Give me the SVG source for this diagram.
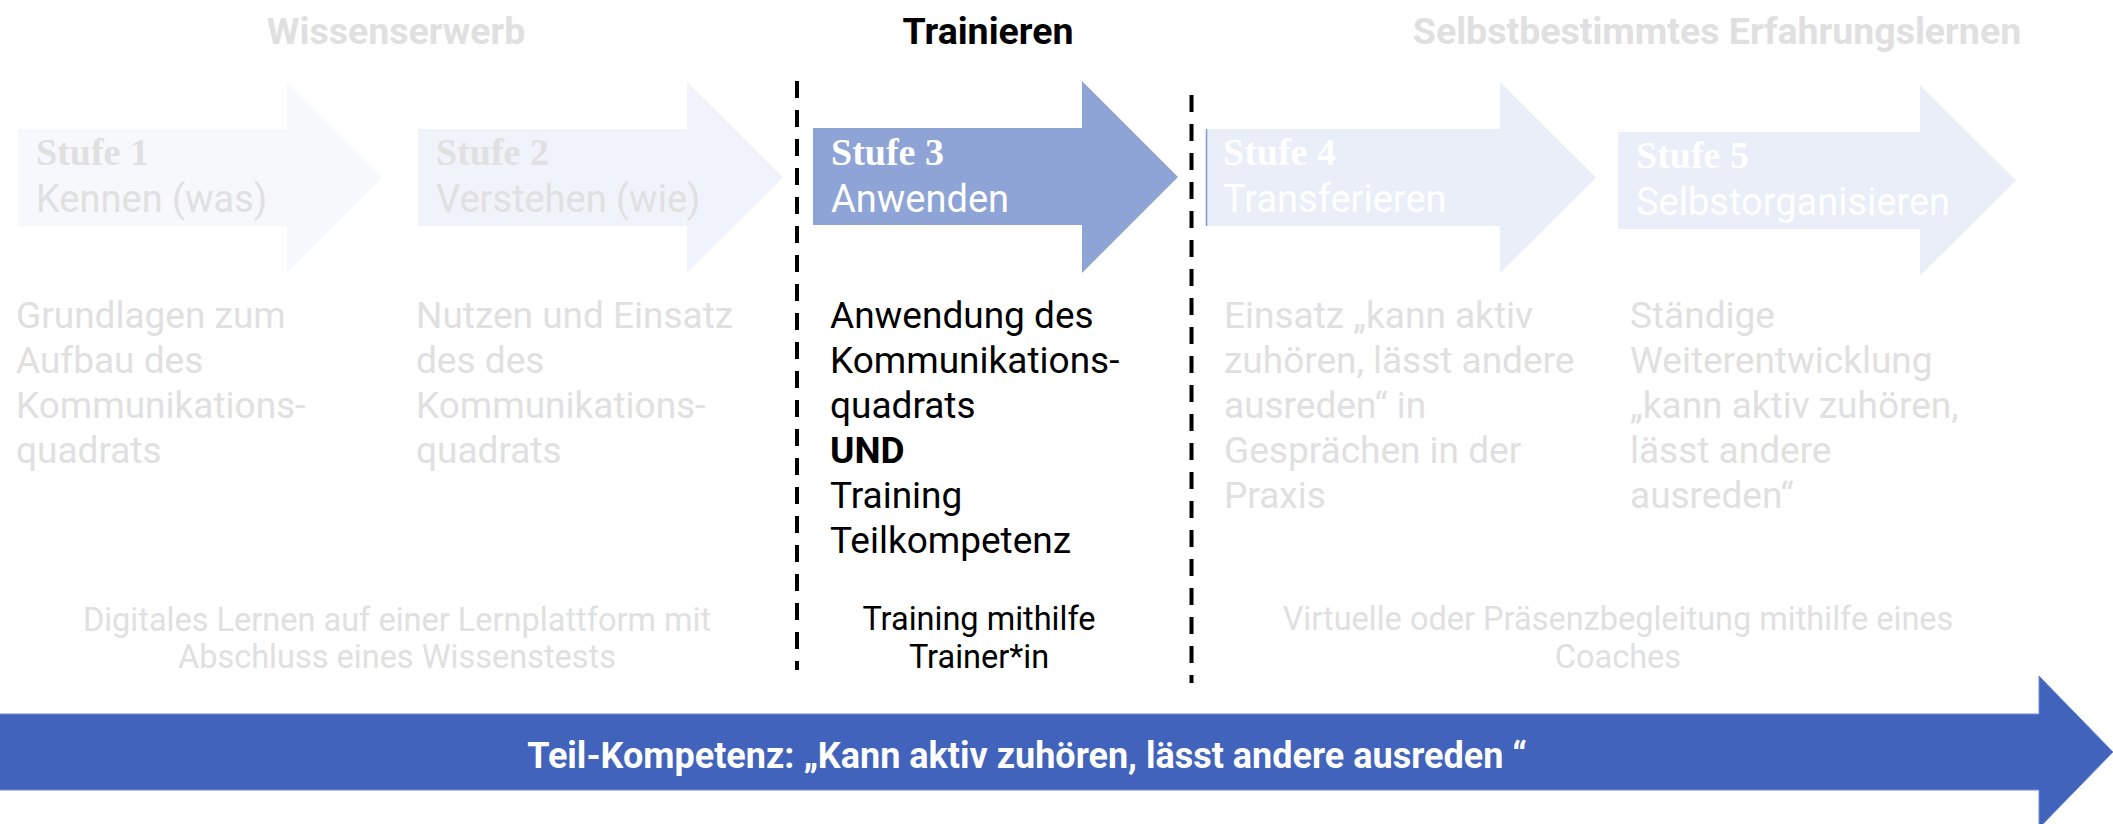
<svg xmlns="http://www.w3.org/2000/svg" width="2113" height="824" viewBox="0 0 2113 824">
<style>
.h{font-family:Roboto,"Liberation Sans",sans-serif;font-weight:700;font-size:37.5px;text-anchor:middle}
.b{font-family:Roboto,"Liberation Sans",sans-serif;font-weight:700;font-size:36px;text-anchor:middle}
.st{font-family:"Liberation Serif",serif;font-weight:700;font-size:38px}
.sub{font-family:Roboto,"Liberation Sans",sans-serif;font-size:38px}
.d{font-family:Roboto,"Liberation Sans",sans-serif;font-size:37px}
.s{font-family:Roboto,"Liberation Sans",sans-serif;font-size:32.5px;text-anchor:middle}
.g{fill:#e0e0e0}
.w{fill:#ffffff}
.k{fill:#000000}
.div{stroke:#000;stroke-width:4;stroke-dasharray:17 12;fill:none}
</style>
<rect width="2113" height="824" fill="#ffffff"/>

<g id="headings">
<text class="h g" x="396" y="44">Wissenserwerb</text>
<text class="h k" x="988" y="44">Trainieren</text>
<text class="h g" x="1717" y="44">Selbstbestimmtes Erfahrungslernen</text>
</g>

<g id="stufe1">
<path d="M18 129 H287 V82 L382 177.5 L287 273 V226 H18 Z" fill="#f7f8fc"/>
<text class="st g" x="36" y="165">Stufe 1</text>
<text class="sub g" x="36" y="212">Kennen (was)</text>
<text class="d g"><tspan x="16" y="328">Grundlagen zum</tspan><tspan x="16" y="373">Aufbau des</tspan><tspan x="16" y="418">Kommunikations-</tspan><tspan x="16" y="463">quadrats</tspan></text>
</g>

<g id="stufe2">
<path d="M418 129 H687 V82 L783 177.5 L687 273 V226 H418 Z" fill="#f1f3fa"/>
<text class="st g" x="436" y="165">Stufe 2</text>
<text class="sub g" x="436" y="212">Verstehen (wie)</text>
<text class="d g"><tspan x="416" y="328">Nutzen und Einsatz</tspan><tspan x="416" y="373">des des</tspan><tspan x="416" y="418">Kommunikations-</tspan><tspan x="416" y="463">quadrats</tspan></text>
</g>

<g id="stufe3">
<path d="M813 128 H1082 V81 L1178 177 L1082 273 V225 H813 Z" fill="#8ea3d6"/>
<text class="st w" x="831" y="165">Stufe 3</text>
<text class="sub w" x="831" y="212">Anwenden</text>
<text class="d k"><tspan x="830" y="328">Anwendung des</tspan><tspan x="830" y="373">Kommunikations-</tspan><tspan x="830" y="418">quadrats</tspan><tspan x="830" y="463" font-weight="700">UND</tspan><tspan x="830" y="508">Training</tspan><tspan x="830" y="553">Teilkompetenz</tspan></text>
<text class="s k"><tspan x="979" y="630">Training mithilfe</tspan><tspan x="979" y="668">Trainer*in</tspan></text>
</g>

<g id="stufe4">
<path d="M1206 129 H1500 V82 L1596 177.5 L1500 273 V226 H1206 Z" fill="#e9eef8"/>
<line x1="1206.5" y1="129" x2="1206.5" y2="226" stroke="#7f98d0" stroke-width="1.5"/>
<text class="st w" x="1223" y="165">Stufe 4</text>
<text class="sub w" x="1223" y="212">Transferieren</text>
<text class="d g"><tspan x="1224" y="328">Einsatz „kann aktiv</tspan><tspan x="1224" y="373">zuhören, lässt andere</tspan><tspan x="1224" y="418">ausreden“ in</tspan><tspan x="1224" y="463">Gesprächen in der</tspan><tspan x="1224" y="508">Praxis</tspan></text>
</g>

<g id="stufe5">
<path d="M1618 132 H1920 V85 L2016 180.5 L1920 276 V229 H1618 Z" fill="#e9eef8"/>
<text class="st w" x="1636" y="168">Stufe 5</text>
<text class="sub w" x="1636" y="215">Selbstorganisieren</text>
<text class="d g"><tspan x="1630" y="328">Ständige</tspan><tspan x="1630" y="373">Weiterentwicklung</tspan><tspan x="1630" y="418">„kann aktiv zuhören,</tspan><tspan x="1630" y="463">lässt andere</tspan><tspan x="1630" y="508">ausreden“</tspan></text>
</g>

<g id="methods">
<text class="s g"><tspan x="397" y="631">Digitales Lernen auf einer Lernplattform mit</tspan><tspan x="397" y="668">Abschluss eines Wissenstests</tspan></text>
<text class="s g"><tspan x="1618" y="630">Virtuelle oder Präsenzbegleitung mithilfe eines</tspan><tspan x="1618" y="668">Coaches</tspan></text>
</g>

<g id="connectors">
<line class="div" x1="797" y1="81" x2="797" y2="670"/>
<line class="div" x1="1191.5" y1="95" x2="1191.5" y2="683"/>
</g>

<g id="kompetenz">
<path d="M-2 714 H2039 V676 L2113 752 L2039 828 V790 H-2 Z" fill="#4263bc" stroke="#6f8bd0" stroke-width="1"/>
<text class="b w" x="1027" y="768">Teil-Kompetenz: „Kann aktiv zuhören, lässt andere ausreden “</text>
</g>
</svg>
